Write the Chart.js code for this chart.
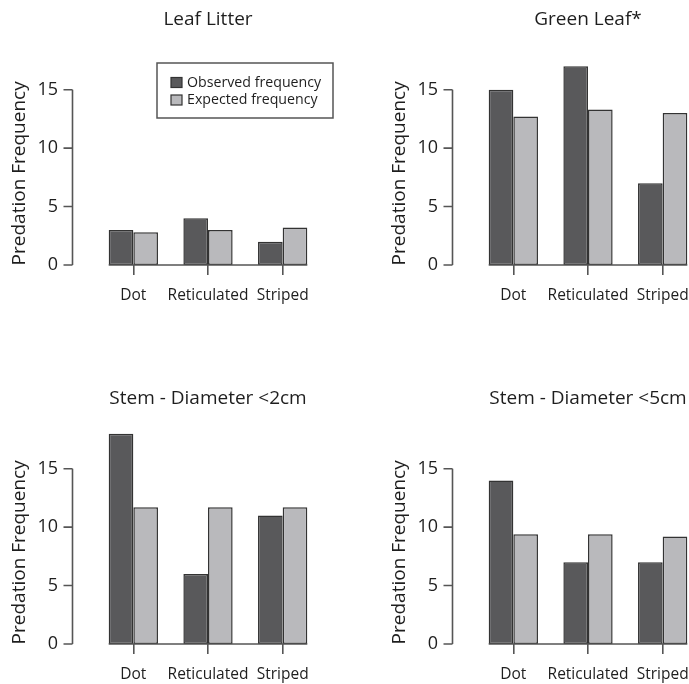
<!DOCTYPE html>
<html>
<head>
<meta charset="utf-8">
<script src="https://cdn.jsdelivr.net/npm/chart.js@4.4.1/dist/chart.umd.min.js"></script>
<style>
	html, body { margin: 0; padding: 0; background: #fff; overflow: hidden; }
	#wrap { position: relative; width: 689px; height: 684px; overflow: hidden; }
	.panel { position: absolute; width: 380px; height: 380px; }
</style>
</head>
<body>
<div id="wrap">
	<div class="panel" style="left:0;top:0"><canvas id="c0" width="380" height="380"></canvas></div>
	<div class="panel" style="left:380px;top:0"><canvas id="c1" width="380" height="380"></canvas></div>
	<div class="panel" style="left:0;top:379px"><canvas id="c2" width="380" height="380"></canvas></div>
	<div class="panel" style="left:380px;top:379px"><canvas id="c3" width="380" height="380"></canvas></div>
</div>
<script>
// Data
const categories = [ 'Dot', 'Reticulated', 'Striped' ];
const seriesNames = [ 'Observed frequency', 'Expected frequency' ];
const panelTitles = [ 'Leaf Litter', 'Green Leaf*', 'Stem - Diameter <2cm', 'Stem - Diameter <5cm' ];
const yTicks = [ 0, 5, 10, 15 ];
const yTitle = 'Predation Frequency';

const observedLeafLitter = [ 3, 4, 2 ];
const expectedLeafLitter = [ 2.8, 3.0, 3.2 ];
const observedGreenLeaf = [ 15, 17, 7 ];
const expectedGreenLeaf = [ 12.7, 13.3, 13.0 ];
const observedStem2 = [ 18, 6, 11 ];
const expectedStem2 = [ 11.7, 11.7, 11.7 ];
const observedStem5 = [ 14, 7, 7 ];
const expectedStem5 = [ 9.4, 9.4, 9.2 ];

const panels = [
	[ observedLeafLitter, expectedLeafLitter ],
	[ observedGreenLeaf, expectedGreenLeaf ],
	[ observedStem2, expectedStem2 ],
	[ observedStem5, expectedStem5 ],
];

const FONT = '"Open Sans", sans-serif';
const TEXT = '#1e1e1e';
const barColors = [ '#59595b', '#b9b9bc' ];
const lineColor = '#555';

// R style axes: detached y axis, baseline under the bars, rotated title.
const axisDecor = {
	id: 'axisDecor',
	afterDraw( chart ) {
		const { ctx, chartArea, scales: { y } } = chart;
		const axisX = chartArea.left - 23.5;
		const y0 = y.getPixelForValue( yTicks[ 0 ] );
		const yTop = y.getPixelForValue( yTicks[ yTicks.length - 1 ] );
		ctx.save();
		ctx.strokeStyle = lineColor;
		ctx.lineWidth = 1.6;
		ctx.beginPath();
		ctx.moveTo( axisX, y0 );
		ctx.lineTo( axisX, yTop );
		yTicks.forEach( ( v ) => {
			const py = y.getPixelForValue( v );
			ctx.moveTo( axisX - 9, py );
			ctx.lineTo( axisX, py );
		} );
		const first = chart.getDatasetMeta( 0 ).data[ 0 ];
		const lastMeta = chart.getDatasetMeta( chart.data.datasets.length - 1 ).data;
		const last = lastMeta[ lastMeta.length - 1 ];
		ctx.moveTo( first.x - first.width / 2, y0 );
		ctx.lineTo( last.x + last.width / 2, y0 );
		ctx.stroke();

		ctx.translate( 25, ( y0 + yTop ) / 2 - 4 );
		ctx.rotate( -Math.PI / 2 );
		ctx.fillStyle = TEXT;
		ctx.font = '19px ' + FONT;
		ctx.textAlign = 'center';
		ctx.textBaseline = 'alphabetic';
		ctx.fillText( yTitle, 0, 0 );
		ctx.restore();
	}
};

// Boxed legend, only on the first panel.
const boxLegend = {
	id: 'boxLegend',
	afterDraw( chart ) {
		const { ctx } = chart;
		ctx.save();
		ctx.strokeStyle = lineColor;
		ctx.lineWidth = 1.5;
		ctx.strokeRect( 157, 63, 176, 55 );
		ctx.font = '14.2px ' + FONT;
		ctx.textBaseline = 'middle';
		chart.data.datasets.forEach( ( ds, i ) => {
			const cy = 82.5 + i * 17.5;
			ctx.fillStyle = ds.backgroundColor;
			ctx.fillRect( 171, cy - 5, 11, 10 );
			ctx.strokeStyle = '#333';
			ctx.lineWidth = 1.2;
			ctx.strokeRect( 171, cy - 5, 11, 10 );
			ctx.fillStyle = TEXT;
			ctx.fillText( ds.label, 187, cy );
		} );
		ctx.restore();
	}
};

panels.forEach( ( series, idx ) => {
	const ctx = document.getElementById( 'c' + idx );
	new Chart( ctx, {
		type: 'bar',
		data: {
			labels: categories,
			datasets: series.map( ( values, i ) => {
				return {
					label: seriesNames[ i ],
					data: values,
					backgroundColor: barColors[ i ],
					borderColor: '#333',
					borderWidth: 1.5,
					borderSkipped: false,
					categoryPercentage: 0.66,
					barPercentage: 1.0,
				};
			} ),
		},
		plugins: idx === 0 ? [ axisDecor, boxLegend ] : [ axisDecor ],
		options: {
			responsive: false,
			animation: false,
			events: [],
			layout: {
				padding: { left: 0, right: 60, top: 0, bottom: 0 },
			},
			plugins: {
				legend: { display: false },
				tooltip: { enabled: false },
				title: {
					display: true,
					text: panelTitles[ idx ],
					fullSize: false,
					color: TEXT,
					font: { family: FONT, size: 19, weight: 'normal', lineHeight: 1.2 },
					padding: { top: 5.6, bottom: 17.9 },
				},
			},
			scales: {
				x: {
					grid: {
						display: true,
						drawOnChartArea: false,
						drawTicks: true,
						tickLength: 10,
						offset: false,
						color: lineColor,
						lineWidth: 1.6,
					},
					border: { display: false },
					ticks: {
						color: TEXT,
						padding: 11,
						autoSkip: false,
						maxRotation: 0,
						font: { family: FONT, size: 15.5 },
					},
					afterFit( scale ) {
						scale.height = 115;
					},
				},
				y: {
					min: 0,
					max: 18.5,
					grid: { display: false, drawTicks: false },
					border: { display: false },
					ticks: {
						color: TEXT,
						padding: 38,
						font: { family: FONT, size: 18 },
					},
					afterBuildTicks( scale ) {
						scale.ticks = yTicks.map( ( v ) => ( { value: v } ) );
					},
					afterFit( scale ) {
						scale.width = 96;
					},
				},
			},
		},
	} );
} );
</script>
</body>
</html>
